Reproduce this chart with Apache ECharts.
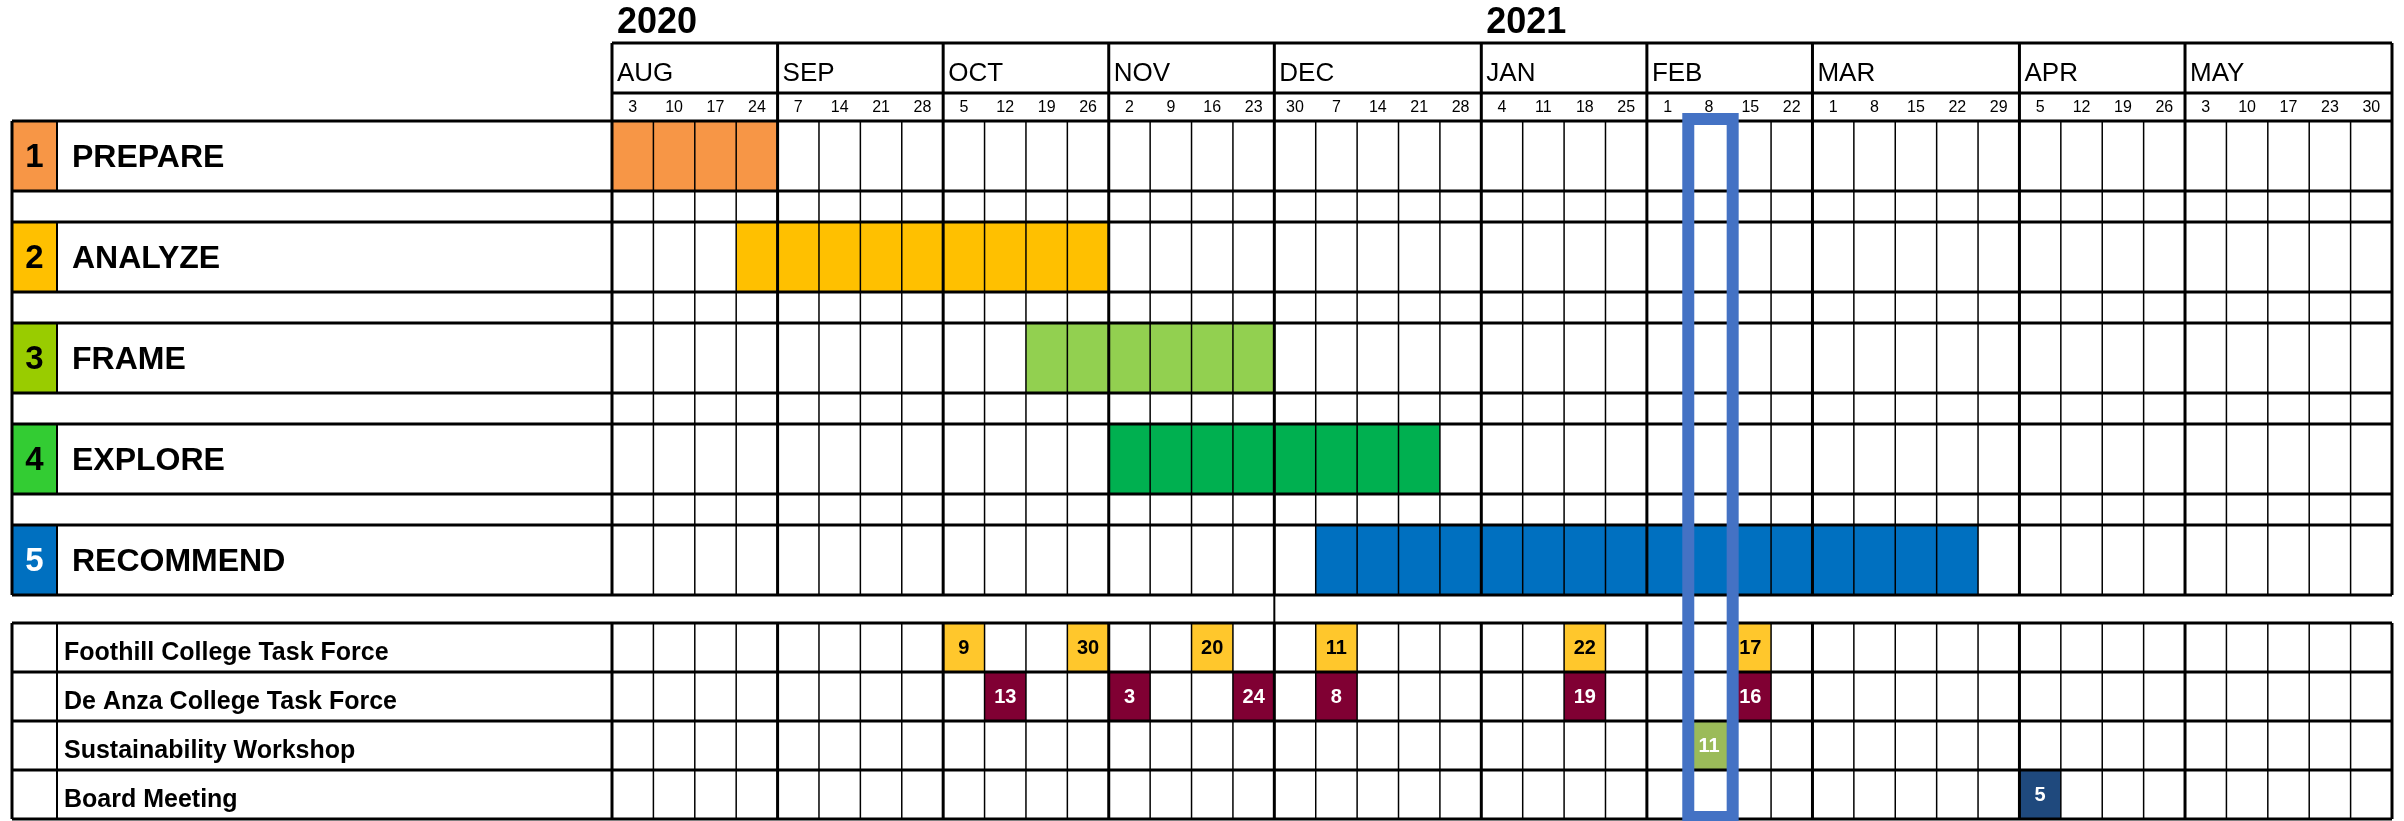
<!DOCTYPE html>
<html><head><meta charset="utf-8">
<script src="https://cdn.jsdelivr.net/npm/echarts@6/dist/echarts.min.js"></script>
<style>html,body{margin:0;padding:0;background:#fff}#c{width:2404px;height:821px}</style>
</head><body><div id="c"></div>
<script>
// ---------------- DATA ----------------
const months = ['AUG','SEP','OCT','NOV','DEC','JAN','FEB','MAR','APR','MAY'];
const monthDays = [[3,10,17,24],[7,14,21,28],[5,12,19,26],[2,9,16,23],[30,7,14,21,28],[4,11,18,25],[1,8,15,22],[1,8,15,22,29],[5,12,19,26],[3,10,17,23,30]];
const years = ['2020','2021'];
const yearStartMonth = ['AUG','JAN'];
const phaseNames = ['PREPARE','ANALYZE','FRAME','EXPLORE','RECOMMEND'];
const phaseStart = ['AUG 3','AUG 24','OCT 19','NOV 2','DEC 7'];
const phaseEnd = ['AUG 24','OCT 26','NOV 23','DEC 21','MAR 22'];
const activityNames = ['Foothill College Task Force','De Anza College Task Force','Sustainability Workshop','Board Meeting'];
const foothillWeeks = ['OCT 5','OCT 26','NOV 16','DEC 7','JAN 18','FEB 15'];
const foothillDates = ['9','30','20','11','22','17'];
const deAnzaWeeks = ['OCT 12','NOV 2','NOV 23','DEC 7','JAN 18','FEB 15'];
const deAnzaDates = ['13','3','24','8','19','16'];
const workshopWeeks = ['FEB 8'];
const workshopDates = ['11'];
const boardWeeks = ['APR 5'];
const boardDates = ['5'];
const highlightWeek = 'FEB 8';

// ---------------- STYLE / LAYOUT ----------------
const phaseColors = ['#F79646','#FFC000','#92D050','#00B050','#0070C0'];
const phaseNumColors = ['#F79646','#FFC000','#99CC00','#33CC33','#0070C0'];
const phaseNumText = ['#000','#000','#000','#000','#fff'];
const activityColors = ['#FFC72C','#800033','#9BBB59','#1F497D'];
const activityText = ['#000','#fff','#fff','#fff'];
const highlightColor = '#4472C4';
const FONT = "'Liberation Sans', Arial, sans-serif";
const NARROW = "'Liberation Sans Narrow', 'Liberation Sans', Arial, sans-serif";

const L = {
  gridLeft: 612, gridRight: 12, tableLeft: 12, numRight: 57,
  headTop: 43, monthBottom: 93, dayBottom: 121,
  phaseTop0: 121, phaseH: 70, gapH: 31,
  actTop0: 623, actH: 49,
  hlTop: 119, hlBottom: 817
};
const phaseTop = i => L.phaseTop0 + i * (L.phaseH + L.gapH);
const phaseBottom = i => phaseTop(i) + L.phaseH;
const actTop = j => L.actTop0 + j * L.actH;
const tableBottom = actTop(activityNames.length);

// derived categories
const weekKeys = [], dayLabels = [], monthStartIdx = [];
months.forEach((m, mi) => {
  monthStartIdx.push(weekKeys.length);
  monthDays[mi].forEach(d => { weekKeys.push(m + ' ' + d); dayLabels.push(String(d)); });
});
const nWeeks = weekKeys.length;
const wi = k => weekKeys.indexOf(k);

const activityWeeks = [foothillWeeks, deAnzaWeeks, workshopWeeks, boardWeeks];
const activityDates = [foothillDates, deAnzaDates, workshopDates, boardDates];
const milestoneData = [];
activityWeeks.forEach((ws, j) => ws.forEach((w, k) => milestoneData.push([wi(w), j, activityDates[j][k]])));

// helpers
const bw = api => api.size([1, 0])[0];
const bl = (api, idx) => api.coord([idx, 0])[0] - bw(api) / 2;
const py = (api, v) => api.coord([0, v])[1];

const chart = echarts.init(document.getElementById('c'), null, {renderer: 'canvas'});
chart.setOption({
  animation: false,
  backgroundColor: '#fff',
  grid: {left: L.gridLeft, right: L.gridRight, top: 0, bottom: 0},
  xAxis: {type: 'category', data: weekKeys, show: false, boundaryGap: true},
  yAxis: {type: 'value', min: 0, max: 821, inverse: true, show: false},
  series: [
    { // phase bars
      type: 'custom', z: 1, silent: true,
      data: phaseNames.map((n, i) => [wi(phaseStart[i]), wi(phaseEnd[i]), i]),
      renderItem: (p, api) => {
        const s = api.value(0), e = api.value(1), i = api.value(2);
        const x0 = bl(api, s), x1 = bl(api, e) + bw(api);
        const y0 = py(api, phaseTop(i)), y1 = py(api, phaseBottom(i));
        return {type: 'rect', shape: {x: x0, y: y0, width: x1 - x0, height: y1 - y0}, style: {fill: phaseColors[i]}};
      }
    },
    { // milestones
      type: 'custom', z: 2, silent: true,
      data: milestoneData,
      renderItem: (p, api) => {
        const w = api.value(0), j = api.value(1), lab = milestoneData[p.dataIndex][2];
        const x0 = bl(api, w), y0 = py(api, actTop(j)), y1 = py(api, actTop(j + 1));
        return {type: 'group', children: [
          {type: 'rect', shape: {x: x0, y: y0, width: bw(api), height: y1 - y0}, style: {fill: activityColors[j]}},
          {type: 'text', z2: 10, style: {x: x0 + bw(api) / 2, y: (y0 + y1) / 2 + 1, text: lab, fill: activityText[j],
            font: 'bold 20px ' + NARROW, textAlign: 'center', textVerticalAlign: 'middle'}}
        ]};
      }
    },
    { // left label column: phases
      type: 'custom', z: 2, silent: true, clip: false,
      data: phaseNames.map((n, i) => [0, i]),
      renderItem: (p, api) => {
        const i = p.dataIndex;
        const y0 = py(api, phaseTop(i)), y1 = py(api, phaseBottom(i)), yc = (y0 + y1) / 2;
        return {type: 'group', children: [
          {type: 'rect', shape: {x: L.tableLeft, y: y0, width: L.numRight - L.tableLeft, height: y1 - y0}, style: {fill: phaseNumColors[i]}},
          {type: 'text', style: {x: (L.tableLeft + L.numRight) / 2, y: yc + 2, text: String(i + 1), fill: phaseNumText[i],
            font: 'bold 33px ' + FONT, textAlign: 'center', textVerticalAlign: 'middle'}},
          {type: 'text', style: {x: 72, y: yc + 2, text: phaseNames[i], fill: '#000',
            font: 'bold 32px ' + FONT, textAlign: 'left', textVerticalAlign: 'middle'}}
        ]};
      }
    },
    { // left label column: activities
      type: 'custom', z: 4, silent: true, clip: false,
      data: activityNames.map((n, j) => [0, j]),
      renderItem: (p, api) => {
        const j = p.dataIndex;
        const y0 = py(api, actTop(j)), y1 = py(api, actTop(j + 1));
        return {type: 'text', style: {x: 64, y: (y0 + y1) / 2 + 6, text: activityNames[j], fill: '#000',
          font: 'bold 25px ' + FONT, textAlign: 'left', textVerticalAlign: 'middle'}};
      }
    },
    { // header: months
      type: 'custom', z: 4, silent: true,
      data: months.map((m, mi) => [monthStartIdx[mi], mi]),
      renderItem: (p, api) => {
        const mi = p.dataIndex;
        return {type: 'text', style: {x: bl(api, monthStartIdx[mi]) + 5, y: (py(api, L.headTop) + py(api, L.monthBottom)) / 2 + 6,
          text: months[mi], fill: '#000', font: '26px ' + FONT, textAlign: 'left', textVerticalAlign: 'middle'}};
      }
    },
    { // header: days
      type: 'custom', z: 4, silent: true,
      data: dayLabels.map((d, k) => [k, 0]),
      renderItem: (p, api) => {
        const k = p.dataIndex;
        return {type: 'text', style: {x: api.coord([k, 0])[0], y: (py(api, L.monthBottom) + py(api, L.dayBottom)) / 2 + 1,
          text: dayLabels[k], fill: '#000', font: '16px ' + NARROW, textAlign: 'center', textVerticalAlign: 'middle'}};
      }
    },
    { // header: years
      type: 'custom', z: 4, silent: true,
      data: years.map((y, k) => [monthStartIdx[months.indexOf(yearStartMonth[k])], 0]),
      renderItem: (p, api) => {
        const k = p.dataIndex;
        return {type: 'text', style: {x: bl(api, api.value(0)) + 5, y: py(api, 23),
          text: years[k], fill: '#000', font: 'bold 36px ' + FONT, textAlign: 'left', textVerticalAlign: 'middle'}};
      }
    },
    { // table lines
      type: 'custom', z: 3, silent: true, clip: false,
      data: [[0, 0]],
      renderItem: (p, api) => {
        const ch = [];
        const line = (x1, y1, x2, y2, w) => ch.push({type: 'line', shape: {x1, y1, x2, y2}, style: {stroke: '#000', lineWidth: w}});
        const xr = bl(api, nWeeks - 1) + bw(api);
        const xg = bl(api, 0);
        const bx = b => (b < nWeeks ? bl(api, b) : xr);
        const yBodyTop = py(api, L.dayBottom), yBodyBot = py(api, phaseBottom(phaseNames.length - 1));
        const yActTop = py(api, actTop(0)), yActBot = py(api, tableBottom);
        // horizontals
        line(xg, py(api, L.headTop), xr, py(api, L.headTop), 3);
        line(xg, py(api, L.monthBottom), xr, py(api, L.monthBottom), 3);
        phaseNames.forEach((n, i) => {
          line(L.tableLeft, py(api, phaseTop(i)), xr, py(api, phaseTop(i)), 3);
          line(L.tableLeft, py(api, phaseBottom(i)), xr, py(api, phaseBottom(i)), 3);
          line(L.numRight, py(api, phaseTop(i)), L.numRight, py(api, phaseBottom(i)), 2);
        });
        for (let j = 0; j <= activityNames.length; j++) line(L.tableLeft, py(api, actTop(j)), xr, py(api, actTop(j)), 3);
        line(L.numRight, yActTop, L.numRight, yActBot, 2);
        line(L.tableLeft, yBodyTop, L.tableLeft, yBodyBot, 3);
        line(L.tableLeft, yActTop, L.tableLeft, yActBot, 3);
        // verticals
        for (let b = 0; b <= nWeeks; b++) {
          const isMonth = b === 0 || b === nWeeks || monthStartIdx.indexOf(b) >= 0;
          const x = bx(b);
          if (isMonth) {
            line(x, py(api, L.headTop), x, yBodyBot, 3);
            line(x, yActTop, x, yActBot, 3);
          } else {
            line(x, yBodyTop, x, yBodyBot, 1.5);
            line(x, yActTop, x, yActBot, 1.5);
          }
        }
        const xd = bx(monthStartIdx[months.indexOf('DEC')]);
        line(xd, yBodyBot, xd, yActTop, 2);
        return {type: 'group', children: ch};
      }
    },
    { // highlight rectangle
      type: 'custom', z: 6, silent: true,
      data: [[wi(highlightWeek), 0]],
      renderItem: (p, api) => {
        const x0 = bl(api, api.value(0));
        const y0 = py(api, L.hlTop), y1 = py(api, L.hlBottom);
        return {type: 'rect', shape: {x: x0, y: y0, width: bw(api) + 3, height: y1 - y0},
          style: {fill: 'none', stroke: highlightColor, lineWidth: 12}};
      }
    }
  ]
});
</script>
</body></html>
